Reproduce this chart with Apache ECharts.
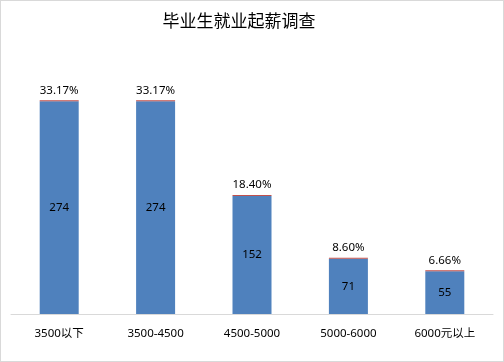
<!DOCTYPE html>
<html><head><meta charset="utf-8">
<script src="https://cdn.jsdelivr.net/npm/echarts@6/dist/echarts.min.js"></script>
<style>html,body{margin:0;padding:0;background:#fff}#c{position:absolute;left:0;top:0;width:502px;height:360px;border:1px solid #d9d9d9}</style>
</head><body><div id="c"></div>
<script>
const categories = ['3500以下','3500-4500','4500-5000','5000-6000','6000元以上'];
const counts = [274, 274, 152, 71, 55];
const shares = [0.3317, 0.3317, 0.1840, 0.0860, 0.0666];
const font = '"Noto Sans", "Noto Sans CJK SC", sans-serif';
const chart = echarts.init(document.getElementById('c'));
chart.setOption({
  animation: false,
  title: {text: '毕业生就业起薪调查', left: 233, textAlign: 'center', top: 6,
    textStyle: {fontFamily: '"Noto Sans CJK SC", sans-serif', fontSize: 17, fontWeight: 'normal', color: '#000'}},
  grid: {left: 10, right: 10, top: 80, bottom: 47},
  xAxis: {type: 'category', data: categories,
    axisLine: {lineStyle: {color: '#d9d9d9'}}, axisTick: {show: false},
    axisLabel: {color: '#000', fontSize: 11.5, fontFamily: font, margin: 14}},
  yAxis: {type: 'value', min: 0, max: 300, show: false, splitLine: {show: false}},
  series: [
    {type: 'bar', stack: 's', data: counts, barWidth: 39,
     itemStyle: {color: '#4f81bd'},
     label: {show: true, position: 'inside', color: '#000', fontSize: 11.5, fontFamily: font}},
    {type: 'bar', stack: 's', data: shares, barWidth: 39, barMinHeight: 1,
     itemStyle: {color: '#c0504d'},
     label: {show: true, position: 'top', color: '#000', fontSize: 11.5, fontFamily: font, distance: 4,
       formatter: p => (p.value * 100).toFixed(2) + '%'}}
  ]
});
</script></body></html>
